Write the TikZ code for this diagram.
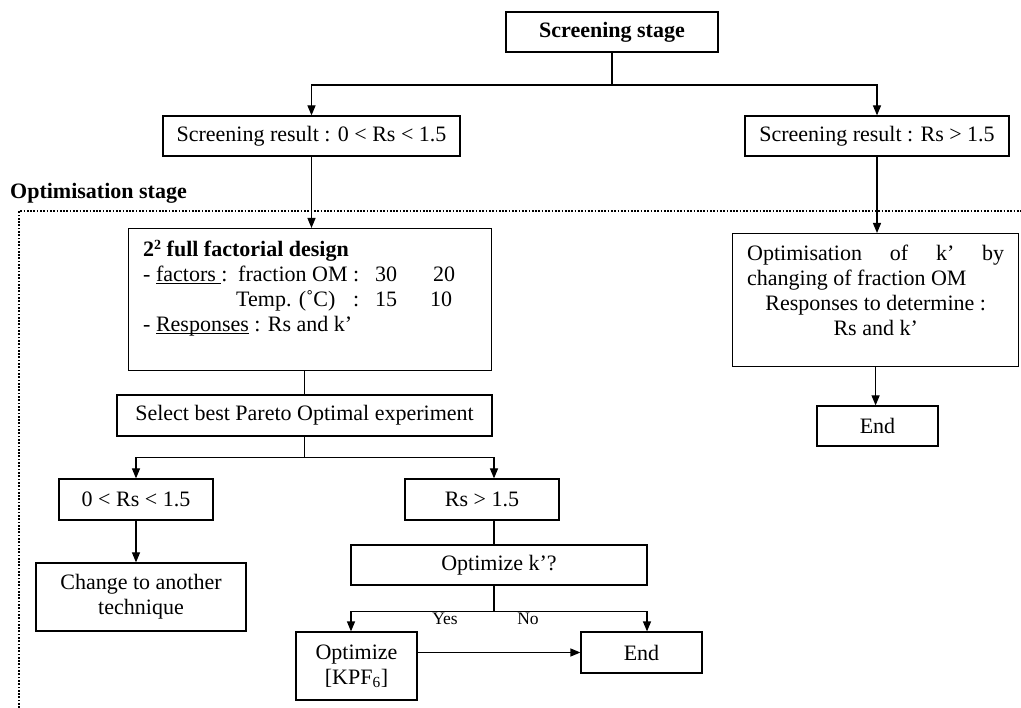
\documentclass[tikz,border=0pt]{standalone}
\usepackage{fontspec}
\setmainfont{Liberation Serif}
\usetikzlibrary{arrows.meta,calc}
\newlength\ulwidth
\newcommand\ulword[1]{\settowidth\ulwidth{#1}\rlap{\rule[-2.6pt]{\ulwidth}{1.3pt}}#1}
\begin{document}
\begin{tikzpicture}[x=1pt,y=-1pt,
  txt/.style={font=\fontsize{22}{25}\selectfont},
  bold/.style={font=\bfseries\fontsize{22}{25}\selectfont},
  small/.style={font=\fontsize{17.5}{20}\selectfont, inner sep=0pt},
  box/.style={draw, line width=1.2pt, inner sep=0pt, align=center, txt},
  ln/.style={line width=1.2pt},
  arr/.style={line width=1.2pt, -{Triangle[length=10pt,width=8pt]}},
  frame/.style={line width=2pt, dash pattern=on 1.7pt off 1.6pt}]
\useasboundingbox (0,0) rectangle (1021,708);

% dotted frame of the optimisation stage
\draw[frame] (19,708) -- (19,211) -- (1021,211);
\node[bold, anchor=base west, inner sep=0pt] (optlabel) at (10,199) {Optimisation stage};

% screening stage
\node[box, bold, minimum width=212pt, minimum height=40pt] (stage) at (612,32) {Screening stage};
\node[box, minimum width=297pt, minimum height=40pt] (sr1) at (311.5,136) {Screening result : 0 < Rs < 1.5};
\node[box, minimum width=264pt, minimum height=40pt] (sr2) at (877,136) {Screening result : Rs > 1.5};

% left branch
\node[box, anchor=north west, minimum width=363pt, minimum height=142pt] (fact) at (128,228) {};
\node[txt, anchor=north west, inner sep=0pt, align=left] (facttext) at ($(fact.north west)+(15,12)$) {%
\textbf{2\raisebox{7pt}{\bfseries\fontsize{14}{14}\selectfont 2} full factorial design}\\
\makebox[95pt][l]{- \ulword{factors }:}\makebox[137pt][l]{fraction OM :}\makebox[58pt][l]{30}20\\
\hspace*{93pt}\makebox[117pt][l]{Temp. (˚C)}\makebox[22pt][l]{:}\makebox[55pt][l]{15}10\\
- \ulword{Responses} : Rs and k’};
\node[box, minimum width=375pt, minimum height=41pt] (select) at (304.5,415.5) {Select best Pareto Optimal experiment};
\node[box, minimum width=154pt, minimum height=41pt] (lo) at (136,499.5) {0 < Rs < 1.5};
\node[box, minimum width=154pt, minimum height=41pt] (hi) at (482,499.5) {Rs > 1.5};
\node[box, minimum width=210pt, minimum height=68pt] (change) at (141,597) {Change to another\\technique};
\node[box, minimum width=296pt, minimum height=40pt] (optq) at (499,565) {Optimize k’?};
\node[box, minimum width=121pt, minimum height=68pt] (kpf) at (356.5,666) {Optimize\\{}[KPF\textsubscript{6}]};
\node[box, minimum width=121pt, minimum height=41pt] (end1) at (641.5,652.5) {End};

% right branch
\node[box, anchor=north west, minimum width=286pt, minimum height=133pt] (optk) at (732,233) {};
\node[txt, anchor=north west, inner sep=0pt, align=left] (optktext) at ($(optk.north west)+(15,12)$) {%
\makebox[257pt][s]{Optimisation of k’ by}\\
changing of fraction OM\\
\makebox[257pt]{Responses to determine :}\\
\makebox[257pt]{Rs and k’}};
\node[box, minimum width=121pt, minimum height=40pt] (end2) at (877.5,426) {End};

% connectors
\coordinate (j1) at (612,85);
\draw[ln] (stage.south) -- (j1);
\draw[arr] (j1) -| (sr1.north);
\draw[arr] (j1) -| (sr2.north);
\draw[arr] (sr1.south) -- (sr1.south |- fact.north);
\draw[arr] (sr2.south) -- (sr2.south |- optk.north);
\draw[arr] (optk.south) -- (optk.south |- end2.north);

\draw[ln] (select.north |- fact.south) -- (select.north);
\coordinate (j2) at ($(select.south)+(0,21)$);
\coordinate (hiN) at ($(hi.north)+(12,0)$);
\coordinate (hiS) at ($(hi.south)+(12,0)$);
\draw[ln] (select.south) -- (j2);
\draw[arr] (j2) -| (lo.north);
\draw[arr] (j2) -| (hiN);
\draw[arr] (lo.south) -- (lo.south |- change.north);
\draw[ln] (hiS) -- (hiS |- optq.north);
\coordinate (j3) at ($(hiS |- optq.south)+(0,26)$);
\coordinate (kpfN) at ($(kpf.north)+(-5.5,0)$);
\coordinate (end1N) at ($(end1.north)+(5.5,0)$);
\draw[ln] (hiS |- optq.south) -- (j3);
\draw[arr] (j3) -| (kpfN);
\draw[arr] (j3) -| (end1N);
\draw[arr] (kpf.east |- end1.west) -- (end1.west);

\node[small, anchor=base] (yes) at (445,624) {Yes};
\node[small, anchor=base] (no) at (528,624) {No};
\end{tikzpicture}
\end{document}
